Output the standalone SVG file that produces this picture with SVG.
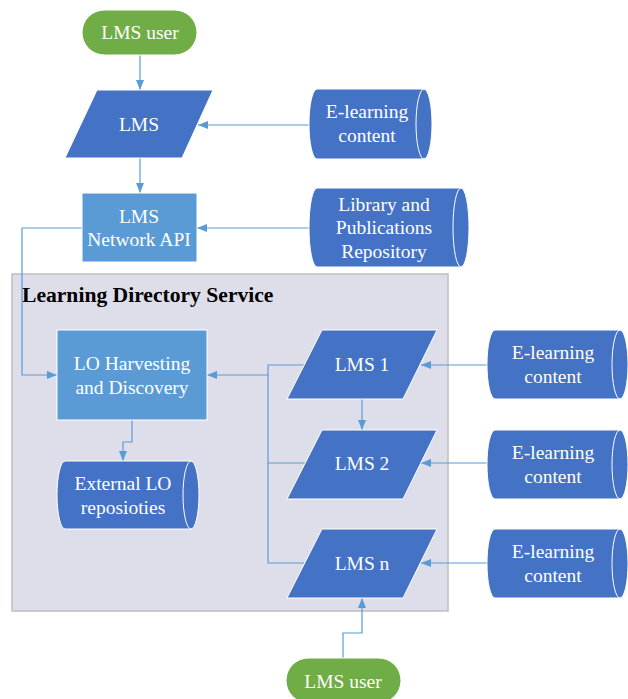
<svg xmlns="http://www.w3.org/2000/svg" width="628" height="699" viewBox="0 0 628 699">
<style>
.t{font-family:"Liberation Serif","Times New Roman",serif;font-size:19.5px;fill:#fff;text-anchor:middle;dominant-baseline:central}
.h{font-family:"Liberation Serif","Times New Roman",serif;font-size:21.6px;font-weight:bold;fill:#000}
.user{fill:#70AD47;stroke:#fff;stroke-width:1}
.dk{fill:#4472C4;stroke:#fff;stroke-width:1}
.lt{fill:#5B9BD5;stroke:#fff;stroke-width:1}
.in{fill:none;stroke:#fff;stroke-width:1}
.c{fill:none;stroke:#5B9BD5;stroke-width:1.2}
</style>
<defs>
<marker id="a" viewBox="0 0 10 8" refX="10" refY="4" markerWidth="10" markerHeight="8" markerUnits="userSpaceOnUse" orient="auto">
<path d="M0,0 L10,4 L0,8 z" fill="#5B9BD5"/>
</marker>
</defs>
<g id="container">
<rect x="12" y="274" width="436" height="337" fill="#DEDEEA" stroke="#BFBFBF" stroke-width="1.5"/>
<text class="h" x="22" y="302">Learning Directory Service</text>
</g>
<g id="connectors">
<path class="c" d="M140,55 V90" marker-end="url(#a)"/>
<path class="c" d="M140,158 V193" marker-end="url(#a)"/>
<path class="c" d="M309,125 H198" marker-end="url(#a)"/>
<path class="c" d="M309,228 H197" marker-end="url(#a)"/>
<path class="c" d="M82,228 H22 V375 H57" marker-end="url(#a)"/>
<path class="c" d="M304,365 H268 V563 H304 M268,463 H305"/>
<path class="c" d="M268,375 H207" marker-end="url(#a)"/>
<path class="c" d="M132,420 V442 H123 V461" marker-end="url(#a)"/>
<path class="c" d="M362,399 V430" marker-end="url(#a)"/>
<path class="c" d="M487,365 H421" marker-end="url(#a)"/>
<path class="c" d="M487,463 H421" marker-end="url(#a)"/>
<path class="c" d="M487,563 H421" marker-end="url(#a)"/>
<path class="c" d="M343,658 V633 H362 V598" marker-end="url(#a)"/>
</g>
<g id="user-top">
<rect class="user" x="82" y="10" width="115" height="45" rx="22.5"/>
<text class="t" x="140" y="32">LMS user</text>
</g>
<g id="lms">
<polygon class="dk" points="97,90 213,90 182,158 65,158"/>
<text class="t" x="139" y="124">LMS</text>
</g>
<g id="elearning-top">
<path class="dk" d="M317,89 L424,89 A8,35 0 0 1 424,159 L317,159 A8,35 0 0 1 317,89 Z"/>
<path class="in" d="M424,89 A8,35 0 0 0 424,159"/>
<text class="t" x="367" y="111">E-learning</text>
<text class="t" x="367" y="135">content</text>
</g>
<g id="api">
<rect class="lt" x="82" y="193" width="115" height="69"/>
<text class="t" x="139" y="216">LMS</text>
<text class="t" x="139" y="239">Network API</text>
</g>
<g id="library">
<path class="dk" d="M317,188 L461,188 A8,39.5 0 0 1 461,267 L317,267 A8,39.5 0 0 1 317,188 Z"/>
<path class="in" d="M461,188 A8,39.5 0 0 0 461,267"/>
<text class="t" x="384" y="204">Library and</text>
<text class="t" x="384" y="227">Publications</text>
<text class="t" x="384" y="251">Repository</text>
</g>
<g id="lo-harvesting">
<rect class="lt" x="57" y="330" width="150" height="90"/>
<text class="t" x="132" y="363">LO Harvesting</text>
<text class="t" x="132" y="387">and Discovery</text>
</g>
<g id="external-lo">
<path class="dk" d="M65,461 L191,461 A8,34 0 0 1 191,529 L65,529 A8,34 0 0 1 65,461 Z"/>
<path class="in" d="M191,461 A8,34 0 0 0 191,529"/>
<text class="t" x="123" y="483">External LO</text>
<text class="t" x="123" y="507">reposioties</text>
</g>
<g id="lms1">
<polygon class="dk" points="322,330 437,330 403,399 287,399"/>
<text class="t" x="362" y="364">LMS 1</text>
</g>
<g id="lms2">
<polygon class="dk" points="322,430 437,430 403,499 287,499"/>
<text class="t" x="362" y="463">LMS 2</text>
</g>
<g id="lmsn">
<polygon class="dk" points="322,529 437,529 403,598 287,598"/>
<text class="t" x="362" y="563">LMS n</text>
</g>
<g id="elearning-1">
<path class="dk" d="M495,330 L620,330 A8,34.5 0 0 1 620,399 L495,399 A8,34.5 0 0 1 495,330 Z"/>
<path class="in" d="M620,330 A8,34.5 0 0 0 620,399"/>
<text class="t" x="553" y="352">E-learning</text>
<text class="t" x="553" y="376">content</text>
</g>
<g id="elearning-2">
<path class="dk" d="M495,430 L620,430 A8,34.5 0 0 1 620,499 L495,499 A8,34.5 0 0 1 495,430 Z"/>
<path class="in" d="M620,430 A8,34.5 0 0 0 620,499"/>
<text class="t" x="553" y="452">E-learning</text>
<text class="t" x="553" y="476">content</text>
</g>
<g id="elearning-n">
<path class="dk" d="M495,529 L620,529 A8,34.5 0 0 1 620,598 L495,598 A8,34.5 0 0 1 495,529 Z"/>
<path class="in" d="M620,529 A8,34.5 0 0 0 620,598"/>
<text class="t" x="553" y="551">E-learning</text>
<text class="t" x="553" y="575">content</text>
</g>
<g id="user-bottom">
<rect class="user" x="286" y="658" width="115" height="45" rx="22.5"/>
<text class="t" x="343" y="681">LMS user</text>
</g>
</svg>
